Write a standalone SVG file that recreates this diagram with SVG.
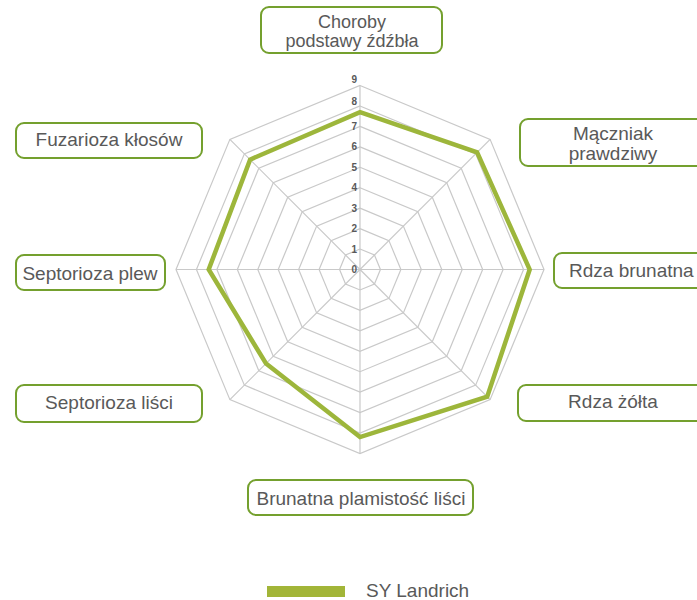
<svg xmlns="http://www.w3.org/2000/svg" width="697" height="600" viewBox="0 0 697 600">
<style>
.grid{fill:none;stroke:#c9c9c9;stroke-width:1.2}
.spoke{stroke:#c9c9c9;stroke-width:1.2}
.data{fill:none;stroke:#9db63b;stroke-width:4.5;stroke-linejoin:miter}
.box{fill:#ffffff;stroke:#74a02e;stroke-width:2}
.lbl{font-family:"Liberation Sans",Arial,sans-serif;font-size:19px;fill:#595959}
.lbl2{font-family:"Liberation Sans",Arial,sans-serif;font-size:18px;fill:#595959}
.tick{font-family:"Liberation Sans",Arial,sans-serif;font-size:10px;font-weight:bold;fill:#595959;text-anchor:end}
</style>
<rect width="697" height="600" fill="#ffffff"/>
<g id="grid">
<polygon class="grid" points="360,249.06 374.46,255.04 380.44,269.5 374.46,283.96 360,289.94 345.54,283.96 339.56,269.5 345.54,255.04"/>
<polygon class="grid" points="360,228.61 388.91,240.59 400.89,269.5 388.91,298.41 360,310.39 331.09,298.41 319.11,269.5 331.09,240.59"/>
<polygon class="grid" points="360,208.17 403.37,226.13 421.33,269.5 403.37,312.87 360,330.83 316.63,312.87 298.67,269.5 316.63,226.13"/>
<polygon class="grid" points="360,187.72 417.83,211.68 441.78,269.5 417.83,327.33 360,351.28 302.17,327.33 278.22,269.5 302.17,211.68"/>
<polygon class="grid" points="360,167.28 432.28,197.22 462.22,269.5 432.28,341.78 360,371.72 287.72,341.78 257.78,269.5 287.72,197.22"/>
<polygon class="grid" points="360,146.83 446.74,182.76 482.67,269.5 446.74,356.24 360,392.17 273.26,356.24 237.33,269.5 273.26,182.76"/>
<polygon class="grid" points="360,126.39 461.19,168.31 503.11,269.5 461.19,370.69 360,412.61 258.81,370.69 216.89,269.5 258.81,168.31"/>
<polygon class="grid" points="360,105.94 475.65,153.85 523.56,269.5 475.65,385.15 360,433.06 244.35,385.15 196.44,269.5 244.35,153.85"/>
<polygon class="grid" points="360,85.5 490.11,139.39 544,269.5 490.11,399.61 360,453.5 229.89,399.61 176,269.5 229.89,139.39"/>
<line class="spoke" x1="360" y1="269.5" x2="360" y2="85.5"/>
<line class="spoke" x1="360" y1="269.5" x2="490.11" y2="139.39"/>
<line class="spoke" x1="360" y1="269.5" x2="544" y2="269.5"/>
<line class="spoke" x1="360" y1="269.5" x2="490.11" y2="399.61"/>
<line class="spoke" x1="360" y1="269.5" x2="360" y2="453.5"/>
<line class="spoke" x1="360" y1="269.5" x2="229.89" y2="399.61"/>
<line class="spoke" x1="360" y1="269.5" x2="176" y2="269.5"/>
<line class="spoke" x1="360" y1="269.5" x2="229.89" y2="139.39"/>
</g>
<g id="ticks">
<text class="tick" x="357" y="273">0</text>
<text class="tick" x="357" y="252.5">1</text>
<text class="tick" x="357" y="232">2</text>
<text class="tick" x="357" y="211.5">3</text>
<text class="tick" x="357" y="191">4</text>
<text class="tick" x="357" y="170.5">5</text>
<text class="tick" x="357" y="150">6</text>
<text class="tick" x="357" y="129.5">7</text>
<text class="tick" x="357" y="105">8</text>
<text class="tick" x="357" y="83">9</text>
</g>
<g id="series">
<polygon class="data" points="360,112.1 477.1,152.4 529.7,269.5 487.2,396.7 360,437.1 266,363.5 208.7,269.5 250.1,159.6"/>
</g>
<g id="node-choroby">
<rect class="box" x="261" y="7" width="181" height="46" rx="8"/>
<text class="lbl2" x="352" y="28" text-anchor="middle">Choroby</text>
<text class="lbl2" x="352" y="47" text-anchor="middle">podstawy źdźbła</text>
</g>
<g id="node-maczniak">
<rect class="box" x="520" y="119" width="200" height="47" rx="8"/>
<text class="lbl" x="613" y="139.5" text-anchor="middle">Mączniak</text>
<text class="lbl" x="613" y="159.5" text-anchor="middle">prawdziwy</text>
</g>
<g id="node-rdza-brunatna">
<rect class="box" x="554" y="253" width="170" height="35" rx="8"/>
<text class="lbl" x="569" y="277">Rdza brunatna</text>
</g>
<g id="node-rdza-zolta">
<rect class="box" x="518" y="385" width="200" height="36" rx="8"/>
<text class="lbl" x="613" y="407.5" text-anchor="middle">Rdza żółta</text>
</g>
<g id="node-brunatna-plamistosc">
<rect class="box" x="248" y="480" width="225" height="35" rx="8"/>
<text class="lbl" x="361" y="505" text-anchor="middle">Brunatna plamistość liści</text>
</g>
<g id="node-septorioza-lisci">
<rect class="box" x="16" y="385" width="186" height="37" rx="8"/>
<text class="lbl" x="109" y="408.5" text-anchor="middle">Septorioza liści</text>
</g>
<g id="node-septorioza-plew">
<rect class="box" x="16" y="255" width="149" height="35" rx="8"/>
<text class="lbl" x="90" y="280" text-anchor="middle">Septorioza plew</text>
</g>
<g id="node-fuzarioza">
<rect class="box" x="16" y="123" width="186" height="35" rx="8"/>
<text class="lbl" x="109" y="146" text-anchor="middle">Fuzarioza kłosów</text>
</g>
<g id="legend">
<rect x="267" y="586" width="78" height="11" fill="#a2b538"/>
<text class="lbl" x="366" y="597">SY Landrich</text>
</g>
</svg>
